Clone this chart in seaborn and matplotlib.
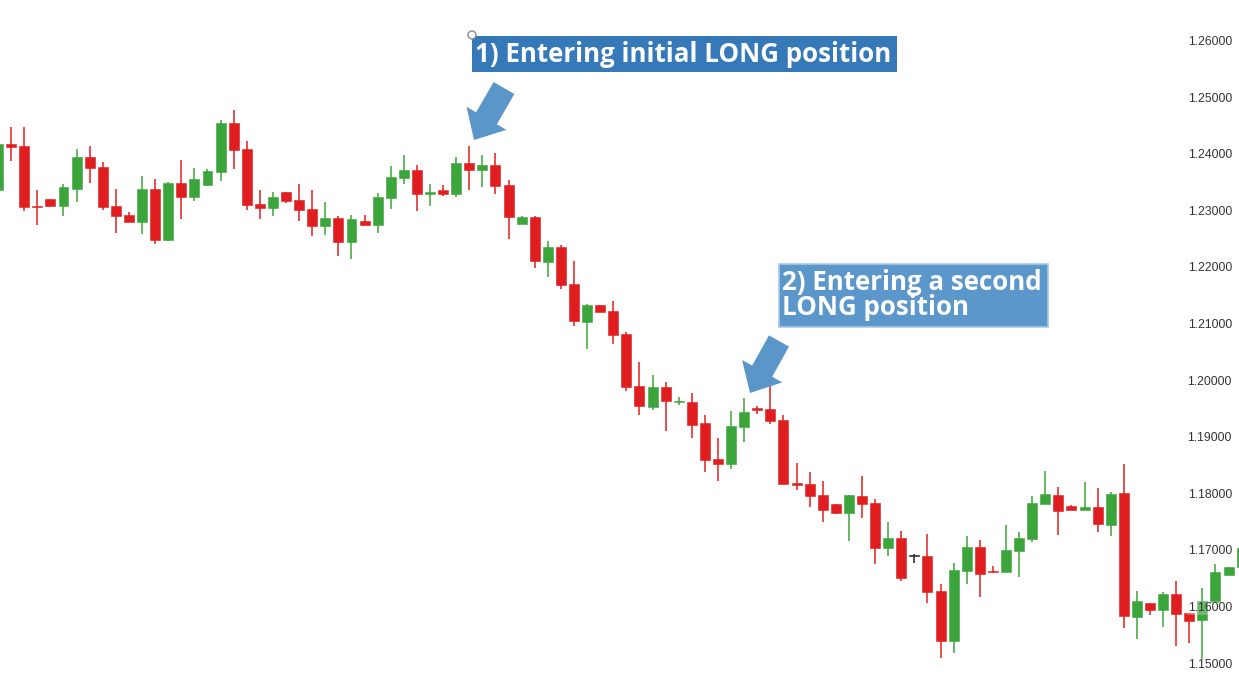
import numpy as np
import pandas as pd
import matplotlib
matplotlib.use("Agg")
import matplotlib.pyplot as plt
from matplotlib.patches import FancyArrow, Rectangle, Circle
import seaborn as sns

# candle data
opens = [1.2339, 1.2420, 1.2416, 1.2310, 1.2323, 1.2310, 1.2340, 1.2397, 1.2379, 1.2310,
         1.2294, 1.2282, 1.2340, 1.2250, 1.2351, 1.2326, 1.2347, 1.2371, 1.2457, 1.2411,
         1.2314, 1.2307, 1.2335, 1.2321, 1.2305, 1.2275, 1.2289, 1.2247, 1.2284, 1.2277,
         1.2324, 1.2360, 1.2374, 1.2331, 1.2339, 1.2331, 1.2386, 1.2374, 1.2383, 1.2347,
         1.2279, 1.2291, 1.2211, 1.2238, 1.2172, 1.2105, 1.2135, 1.2125, 1.2084, 1.1992,
         1.1955, 1.1990, 1.1964, 1.1964, 1.1927, 1.1863, 1.1854, 1.1920, 1.1953, 1.1952,
         1.1932, 1.1821, 1.1819, 1.1800, 1.1784, 1.1768, 1.1798, 1.1786, 1.1706, 1.1724,
         1.1692, 1.1692, 1.1630, 1.1542, 1.1665, 1.1708, 1.1665, 1.1664, 1.1700, 1.1722,
         1.1784, 1.1800, 1.1780, 1.1773, 1.1778, 1.1747, 1.1803, 1.1584, 1.1609, 1.1597,
         1.1625, 1.1591, 1.1579, 1.1611, 1.1658, 1.1672]
highs = [1.2445, 1.2450, 1.2450, 1.2339, 1.2323, 1.2349, 1.2411, 1.2416, 1.2388, 1.2340,
         1.2300, 1.2363, 1.2358, 1.2352, 1.2392, 1.2377, 1.2375, 1.2462, 1.2480, 1.2425,
         1.2339, 1.2335, 1.2335, 1.2349, 1.2339, 1.2317, 1.2293, 1.2294, 1.2294, 1.2333,
         1.2381, 1.2400, 1.2383, 1.2349, 1.2347, 1.2397, 1.2416, 1.2400, 1.2404, 1.2356,
         1.2293, 1.2293, 1.2248, 1.2241, 1.2213, 1.2137, 1.2135, 1.2142, 1.2088, 1.2035,
         1.2012, 1.1999, 1.1973, 1.1980, 1.1941, 1.1900, 1.1948, 1.1971, 1.1957, 1.1999,
         1.1941, 1.1856, 1.1840, 1.1824, 1.1784, 1.1800, 1.1833, 1.1793, 1.1752, 1.1736,
         1.1695, 1.1731, 1.1642, 1.1680, 1.1727, 1.1720, 1.1674, 1.1747, 1.1734, 1.1798,
         1.1842, 1.1814, 1.1782, 1.1823, 1.1812, 1.1805, 1.1854, 1.1630, 1.1609, 1.1628,
         1.1648, 1.1591, 1.1635, 1.1678, 1.1672, 1.1707]
lows = [1.2330, 1.2389, 1.2302, 1.2277, 1.2309, 1.2293, 1.2317, 1.2351, 1.2303, 1.2263,
        1.2282, 1.2261, 1.2243, 1.2249, 1.2287, 1.2319, 1.2345, 1.2355, 1.2376, 1.2303,
        1.2287, 1.2293, 1.2316, 1.2284, 1.2257, 1.2259, 1.2222, 1.2217, 1.2277, 1.2263,
        1.2305, 1.2349, 1.2301, 1.2310, 1.2328, 1.2326, 1.2339, 1.2344, 1.2331, 1.2252,
        1.2279, 1.2201, 1.2185, 1.2164, 1.2098, 1.2058, 1.2123, 1.2066, 1.1983, 1.1941,
        1.1950, 1.1913, 1.1959, 1.1900, 1.1840, 1.1824, 1.1846, 1.1893, 1.1943, 1.1925,
        1.1819, 1.1808, 1.1778, 1.1752, 1.1766, 1.1718, 1.1759, 1.1678, 1.1692, 1.1648,
        1.1680, 1.1609, 1.1512, 1.1520, 1.1642, 1.1619, 1.1662, 1.1664, 1.1655, 1.1717,
        1.1784, 1.1729, 1.1773, 1.1773, 1.1734, 1.1727, 1.1565, 1.1545, 1.1588, 1.1566,
        1.1533, 1.1538, 1.1510, 1.1611, 1.1658, 1.1672]
closes = [1.2420, 1.2415, 1.2309, 1.2309, 1.2310, 1.2344, 1.2397, 1.2377, 1.2308, 1.2293,
          1.2282, 1.2340, 1.2250, 1.2351, 1.2326, 1.2358, 1.2372, 1.2457, 1.2409, 1.2312,
          1.2307, 1.2326, 1.2319, 1.2303, 1.2275, 1.2289, 1.2247, 1.2287, 1.2277, 1.2326,
          1.2361, 1.2374, 1.2331, 1.2335, 1.2331, 1.2386, 1.2374, 1.2383, 1.2346, 1.2291,
          1.2291, 1.2213, 1.2238, 1.2171, 1.2107, 1.2135, 1.2123, 1.2082, 1.1990, 1.1957,
          1.1990, 1.1966, 1.1965, 1.1923, 1.1861, 1.1854, 1.1922, 1.1946, 1.1950, 1.1930,
          1.1819, 1.1817, 1.1798, 1.1773, 1.1768, 1.1800, 1.1784, 1.1706, 1.1724, 1.1653,
          1.1692, 1.1628, 1.1542, 1.1667, 1.1708, 1.1660, 1.1664, 1.1702, 1.1724, 1.1786,
          1.1801, 1.1771, 1.1773, 1.1778, 1.1748, 1.1801, 1.1586, 1.1612, 1.1596, 1.1625,
          1.1589, 1.1577, 1.1612, 1.1664, 1.1672, 1.1706]

price_ticks = [1.15, 1.16, 1.17, 1.18, 1.19, 1.20, 1.21, 1.22, 1.23, 1.24, 1.25, 1.26]

df = pd.DataFrame({"open": opens, "high": highs, "low": lows, "close": closes})
df["idx"] = np.arange(len(df))

UP = "#3ba53b"
DOWN = "#e01e1f"
FLAT = "#222222"

def candle_color(row):
    if row["close"] > row["open"]:
        return UP
    if row["close"] < row["open"]:
        return DOWN
    return FLAT

df["color"] = df.apply(candle_color, axis=1)

sns.set_style("white")

W, H = 1239, 696
fig = plt.figure(figsize=(W / 100, H / 100), dpi=100)
ax = fig.add_axes([0, 0, 1, 1])

# wicks
ax.vlines(df["idx"], df["low"], df["high"], colors=df["color"], linewidth=1.1, zorder=2)
# bodies
body_bottom = df[["open", "close"]].min(axis=1)
body_height = (df["open"] - df["close"]).abs().clip(lower=0.00012)
ax.bar(df["idx"], body_height, bottom=body_bottom, width=0.76, color=df["color"],
       edgecolor=df["color"], linewidth=0.4, zorder=3)

ax.set_xlim(0.15, 94.8)
ax.set_ylim(1.14445, 1.26742)
ax.set_xticks([])
ax.set_yticks([])
sns.despine(ax=ax, left=True, bottom=True)

# price labels drawn inside the plot on the right
for p in price_ticks:
    ax.text(1232 / W, p, f"{p:.5f}", transform=ax.get_yaxis_transform(),
            ha="right", va="center", fontsize=8.8, color="#333333",
            family="Liberation Sans", zorder=5,
            bbox=dict(facecolor="white", alpha=0.25, edgecolor="none", pad=0.5))

# annotation layer in pixel coordinates
ov = fig.add_axes([0, 0, 1, 1], zorder=10)
ov.set_xlim(0, W)
ov.set_ylim(H, 0)
ov.axis("off")
ov.patch.set_alpha(0)

ov.add_patch(Rectangle((472, 36), 425, 36, facecolor="#3579b9", edgecolor="none"))
ov.text(475, 55, "1) Entering initial LONG position", color="white", fontsize=18.6,
        fontweight="bold", family="Open Sans", ha="left", va="center")
ov.add_patch(Circle((472, 35), 4, facecolor="white", edgecolor="#888888", linewidth=1))

ov.add_patch(Rectangle((779, 264), 269, 63, facecolor="#5b97ca", edgecolor="#a9c8e4",
                       linewidth=1.2))
ov.text(782, 295, "2) Entering a second\nLONG position", color="white", fontsize=18.6,
        fontweight="bold", family="Open Sans", ha="left", va="center", linespacing=0.92)

arrow_color = "#5b96c9"
ov.add_patch(FancyArrow(504, 88, -30, 52, width=24, head_width=46, head_length=25,
                        length_includes_head=True, color=arrow_color, linewidth=0))
ov.add_patch(FancyArrow(779, 341, -29, 52, width=23, head_width=46, head_length=25,
                        length_includes_head=True, color=arrow_color, linewidth=0))

fig.savefig("out.png", dpi=100)
